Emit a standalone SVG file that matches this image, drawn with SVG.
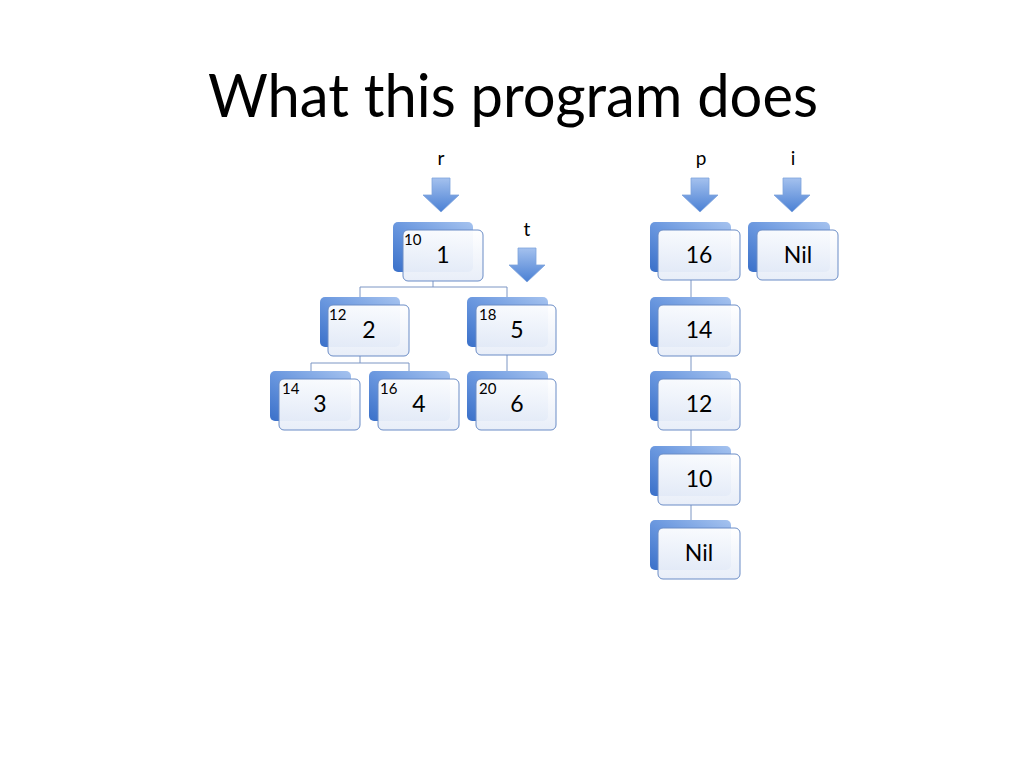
<svg xmlns="http://www.w3.org/2000/svg" width="1024" height="768" viewBox="0 0 1024 768">
  <defs>
    <linearGradient id="backG" x1="1" y1="0" x2="0" y2="1">
      <stop offset="0" stop-color="#a6c3ef"/>
      <stop offset="0.5" stop-color="#6b98df"/>
      <stop offset="1" stop-color="#3a70c9"/>
    </linearGradient>
    <linearGradient id="frontG" x1="0" y1="0" x2="0" y2="1">
      <stop offset="0" stop-color="#ffffff"/>
      <stop offset="1" stop-color="#e7edf8"/>
    </linearGradient>
    <linearGradient id="arrowG" x1="0" y1="0" x2="0" y2="1">
      <stop offset="0" stop-color="#a4c1ee"/>
      <stop offset="1" stop-color="#4a80d4"/>
    </linearGradient>
    <path id="arrow" d="M-9,-34 H9 V-17 H18 L0,0 L-18,-17 H-9 Z"/>
  </defs>
  <style>
    .back { fill: url(#backG); }
    .front { fill: url(#frontG); fill-opacity: 0.95; stroke: #6a8cc6; stroke-width: 1; }
    .main { font-family: Lato, "Open Sans", "Liberation Sans", sans-serif; font-size: 23px; fill: #000; text-anchor: middle; }
    .small { font-family: Lato, "Open Sans", "Liberation Sans", sans-serif; font-size: 15px; fill: #000; }
    .lbl { font-family: Lato, "Open Sans", "Liberation Sans", sans-serif; font-size: 19px; fill: #000; text-anchor: middle; }
    .title { font-family: Lato, "Open Sans", "Liberation Sans", sans-serif; font-size: 60px; fill: #000; text-anchor: middle; }
    .conn { stroke: #7d96c4; stroke-width: 1; fill: none; }
    .arr { fill: url(#arrowG); stroke: #7fa3dc; stroke-width: 0.8; }
  </style>
  <rect width="1024" height="768" fill="#ffffff"/>
  <text class="title" x="513" y="117" textLength="610" lengthAdjust="spacingAndGlyphs">What this program does</text>

  <g id="connectors">
    <path class="conn" d="M433,281 V287 M360,287 H507 M360,287 V297 M507,287 V297"/>
    <path class="conn" d="M360,356 V363 M311,363 H409 M311,363 V371 M409,363 V371"/>
    <path class="conn" d="M507,355 V371"/>
    <path class="conn" d="M691,280 V297 M691,356 V372 M691,430 V447 M691,505 V520"/>
  </g>

  <g id="pointers">
    <g id="ptr-r">
      <text class="lbl" x="441" y="165">r</text>
      <use href="#arrow" class="arr" transform="translate(441,212)"/>
    </g>
    <g id="ptr-t">
      <text class="lbl" x="527" y="236">t</text>
      <use href="#arrow" class="arr" transform="translate(527,282)"/>
    </g>
    <g id="ptr-p">
      <text class="lbl" x="701" y="165">p</text>
      <use href="#arrow" class="arr" transform="translate(700,212)"/>
    </g>
    <g id="ptr-i">
      <text class="lbl" x="793" y="165">i</text>
      <use href="#arrow" class="arr" transform="translate(792,212)"/>
    </g>
  </g>

  <g id="node-1" transform="translate(403,230)">
    <rect class="back" x="-10" y="-8" width="80" height="50" rx="5"/>
    <rect class="front" x="0" y="0" width="80" height="51" rx="5"/>
    <text class="small" x="1" y="15">10</text>
    <text class="main" x="40" y="33">1</text>
  </g>
  <g id="node-2" transform="translate(328,305)">
    <rect class="back" x="-8" y="-8" width="80" height="50" rx="5"/>
    <rect class="front" x="0" y="0" width="81" height="51" rx="5"/>
    <text class="small" x="1" y="15">12</text>
    <text class="main" x="41" y="33">2</text>
  </g>
  <g id="node-5" transform="translate(476,305)">
    <rect class="back" x="-9" y="-8" width="81" height="50" rx="5"/>
    <rect class="front" x="0" y="0" width="80" height="50" rx="5"/>
    <text class="small" x="3" y="15">18</text>
    <text class="main" x="41" y="33">5</text>
  </g>
  <g id="node-3" transform="translate(279,379)">
    <rect class="back" x="-9" y="-8" width="81" height="50" rx="5"/>
    <rect class="front" x="0" y="0" width="81" height="51" rx="5"/>
    <text class="small" x="3" y="15">14</text>
    <text class="main" x="41" y="33">3</text>
  </g>
  <g id="node-4" transform="translate(378,379)">
    <rect class="back" x="-9" y="-8" width="81" height="50" rx="5"/>
    <rect class="front" x="0" y="0" width="81" height="51" rx="5"/>
    <text class="small" x="2" y="15">16</text>
    <text class="main" x="41" y="33">4</text>
  </g>
  <g id="node-6" transform="translate(476,379)">
    <rect class="back" x="-9" y="-8" width="81" height="50" rx="5"/>
    <rect class="front" x="0" y="0" width="80" height="51" rx="5"/>
    <text class="small" x="3" y="15">20</text>
    <text class="main" x="41" y="33">6</text>
  </g>

  <g id="list-16" transform="translate(658,230)">
    <rect class="back" x="-8" y="-8" width="81" height="50" rx="5"/>
    <rect class="front" x="0" y="0" width="82" height="50" rx="5"/>
    <text class="main" x="41" y="33">16</text>
  </g>
  <g id="list-14" transform="translate(658,305)">
    <rect class="back" x="-8" y="-8" width="81" height="50" rx="5"/>
    <rect class="front" x="0" y="0" width="82" height="51" rx="5"/>
    <text class="main" x="41" y="33">14</text>
  </g>
  <g id="list-12" transform="translate(658,379)">
    <rect class="back" x="-8" y="-8" width="81" height="50" rx="5"/>
    <rect class="front" x="0" y="0" width="82" height="51" rx="5"/>
    <text class="main" x="41" y="33">12</text>
  </g>
  <g id="list-10" transform="translate(658,454)">
    <rect class="back" x="-8" y="-8" width="81" height="50" rx="5"/>
    <rect class="front" x="0" y="0" width="82" height="51" rx="5"/>
    <text class="main" x="41" y="33">10</text>
  </g>
  <g id="list-nil" transform="translate(658,528)">
    <rect class="back" x="-8" y="-8" width="81" height="50" rx="5"/>
    <rect class="front" x="0" y="0" width="82" height="51" rx="5"/>
    <text class="main" x="41" y="33">Nil</text>
  </g>
  <g id="i-nil" transform="translate(757,230)">
    <rect class="back" x="-9" y="-8" width="82" height="50" rx="5"/>
    <rect class="front" x="0" y="0" width="81" height="50" rx="5"/>
    <text class="main" x="41" y="33">Nil</text>
  </g>
</svg>
